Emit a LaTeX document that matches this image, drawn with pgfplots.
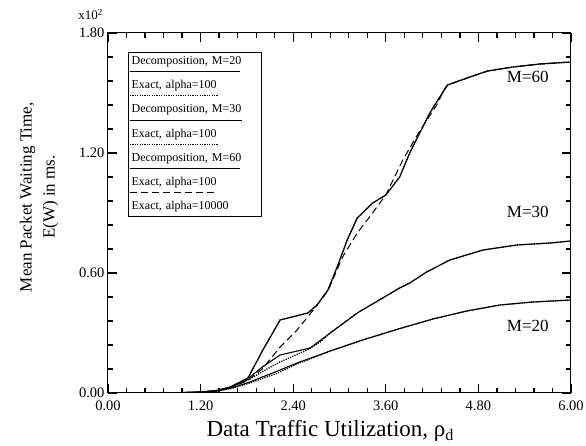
\documentclass[border=0pt]{standalone}
\usepackage{pgfplots}
\pgfplotsset{compat=1.18}
\usepackage{fontspec}
\setmainfont{Liberation Serif}
\pgfkeys{/tikz/leglen/.initial=108pt}
\begin{document}
\begin{tikzpicture}
\begin{axis}[
  scale only axis, width=463pt, height=360pt,
  xmin=0, xmax=6, ymin=0, ymax=1.8,
  xtick={0,1.2,2.4,3.6,4.8,6}, ytick={0,0.6,1.2,1.8},
  minor x tick num=4, minor y tick num=4,
  major tick length=9pt, minor tick length=5pt,
  every tick/.append style={black, line width=1.3pt},
  axis line style={line width=1pt},
  scaled ticks=false,
  xticklabel={\pgfmathprintnumber[fixed, fixed zerofill, precision=2, assume math mode=true]{\tick}},
  yticklabel={\pgfmathprintnumber[fixed, fixed zerofill, precision=2, assume math mode=true]{\tick}},
  tick label style={font=\fontsize{14.5}{14.5}\selectfont},
  xticklabel style={yshift=-4pt},
  xlabel={Data Traffic Utilization, ρ\textsubscript{d}},
  ylabel={Mean Packet Waiting Time,\\E(W) in ms.},
  every axis x label/.style={at={(ticklabel cs:0.48,3pt)}, anchor=north, font=\fontsize{23}{23}\selectfont},
  every axis y label/.style={at={(ticklabel cs:0.544,14pt)}, rotate=90, anchor=south, align=center, font=\fontsize{17}{23}\selectfont},
  legend style={at={(rel axis cs:0.043,0.947)}, anchor=north west, draw=black, line width=0.8pt,
    font=\fontsize{12}{12}\selectfont, row sep=11.5pt, inner xsep=1pt, inner ysep=3pt,
    nodes={inner sep=1pt, text depth=0.25em, text width=128pt}, column sep=0pt},
  legend cell align=left,
  legend image code/.code={\path (0pt,0pt); \draw[#1, overlay, line width=0.8pt] (0pt,-10pt) -- (\pgfkeysvalueof{/tikz/leglen},-10pt);},
]
\coordinate (O) at (rel axis cs:0,0);
\coordinate (TL) at (rel axis cs:0,1);
% M=20 decomposition
\addplot[black, line width=1.1pt, leglen=110pt] coordinates {
(0,0) (0.9,0.001) (1.2,0.004) (1.4,0.009) (1.6,0.025) (1.84,0.055) (2.0,0.08) (2.2,0.11) (2.45,0.15) (2.88,0.21) (3.3,0.265) (3.78,0.322) (4.21,0.37) (4.65,0.41) (5.08,0.44) (5.51,0.455) (6.0,0.465)};
\addlegendentry{Decomposition, M=20}
% M=20 exact
\addplot[black, line width=1.3pt, dash pattern=on 1.2pt off 1.2pt, leglen=88pt] coordinates {
(0,0) (0.9,0.001) (1.2,0.004) (1.4,0.009) (1.6,0.023) (1.84,0.05) (2.0,0.072) (2.2,0.10) (2.45,0.145) (2.88,0.21) (3.3,0.265) (3.78,0.322) (4.21,0.37) (4.65,0.41) (5.08,0.44) (5.51,0.455) (6.0,0.465)};
\addlegendentry{Exact, alpha=100}
% M=30 decomposition
\addplot[black, line width=1.1pt, leglen=112pt] coordinates {
(0,0) (0.9,0.001) (1.2,0.004) (1.4,0.01) (1.58,0.03) (1.84,0.08) (2.0,0.13) (2.23,0.19) (2.62,0.225) (2.88,0.30) (3.23,0.40) (3.56,0.475) (3.78,0.525) (3.91,0.55) (4.13,0.605) (4.43,0.665) (4.86,0.715) (5.30,0.74) (5.73,0.75) (6.0,0.76)};
\addlegendentry{Decomposition, M=30}
% M=30 exact
\addplot[black, line width=1.3pt, dash pattern=on 1.2pt off 1.2pt, leglen=88pt] coordinates {
(0,0) (0.9,0.001) (1.2,0.004) (1.4,0.01) (1.58,0.028) (1.84,0.07) (2.06,0.12) (2.23,0.155) (2.58,0.215) (2.75,0.255) (2.88,0.30) (3.23,0.40) (3.56,0.475) (3.78,0.525) (3.91,0.55) (4.13,0.605) (4.43,0.665) (4.86,0.715) (5.30,0.74) (5.73,0.75) (6.0,0.76)};
\addlegendentry{Exact, alpha=100}
% M=60 decomposition
\addplot[black, line width=1.1pt, leglen=110pt] coordinates {
(0,0) (0.9,0.001) (1.2,0.005) (1.4,0.012) (1.6,0.03) (1.8,0.065) (2.0,0.21) (2.23,0.365) (2.59,0.40) (2.71,0.44) (2.85,0.515) (2.97,0.63) (3.10,0.765) (3.23,0.875) (3.43,0.95) (3.60,0.99) (3.78,1.08) (3.91,1.20) (4.04,1.30) (4.17,1.40) (4.30,1.48) (4.40,1.54) (4.69,1.58) (4.92,1.61) (5.25,1.63) (5.6,1.645) (6.0,1.655)};
\addlegendentry{Decomposition, M=60}
% M=60 exact alpha=100
\addplot[black, line width=1pt, dash pattern=on 7pt off 4pt, leglen=85pt] coordinates {
(0,0) (0.9,0.001) (1.2,0.005) (1.4,0.012) (1.6,0.03) (1.8,0.06) (2.0,0.12) (2.23,0.23) (2.45,0.315) (2.66,0.415) (2.85,0.51) (3.04,0.68) (3.23,0.80) (3.39,0.88) (3.6,0.99) (3.82,1.165) (4.04,1.31) (4.26,1.44) (4.36,1.52) (4.40,1.54) (4.69,1.58) (4.92,1.61) (5.25,1.63) (5.6,1.645) (6.0,1.655)};
\addlegendentry{Exact, alpha=100}
% M=60 exact alpha=10000
\addplot[black, line width=1.3pt, dash pattern=on 1.2pt off 1.2pt, leglen=100pt] coordinates {
(0,0) (0.9,0.001) (1.2,0.005) (1.4,0.012) (1.6,0.03) (1.8,0.065) (2.0,0.21) (2.23,0.365) (2.59,0.40) (2.71,0.44) (2.85,0.515) (2.97,0.63) (3.10,0.765) (3.23,0.875) (3.43,0.95) (3.60,0.99) (3.78,1.08) (3.91,1.20) (4.04,1.30) (4.17,1.40) (4.30,1.48) (4.40,1.54) (4.69,1.58) (4.92,1.61) (5.25,1.63) (5.6,1.645) (6.0,1.655)};
\addlegendentry{Exact, alpha=10000}
\node[font=\fontsize{17}{17}\selectfont] at (axis cs:5.44,1.58) {M=60};
\node[font=\fontsize{17}{17}\selectfont] at (axis cs:5.44,0.905) {M=30};
\node[font=\fontsize{17}{17}\selectfont] at (axis cs:5.44,0.335) {M=20};
\end{axis}
\node[anchor=south east, font=\fontsize{13}{13}\selectfont, inner sep=0pt] at (TL) [xshift=-5pt, yshift=13pt] {x10\textsuperscript{2}};
\pgfresetboundingbox
\path (O) ++(-108pt,-53pt) rectangle ++(586pt,446pt);
\end{tikzpicture}
\end{document}
